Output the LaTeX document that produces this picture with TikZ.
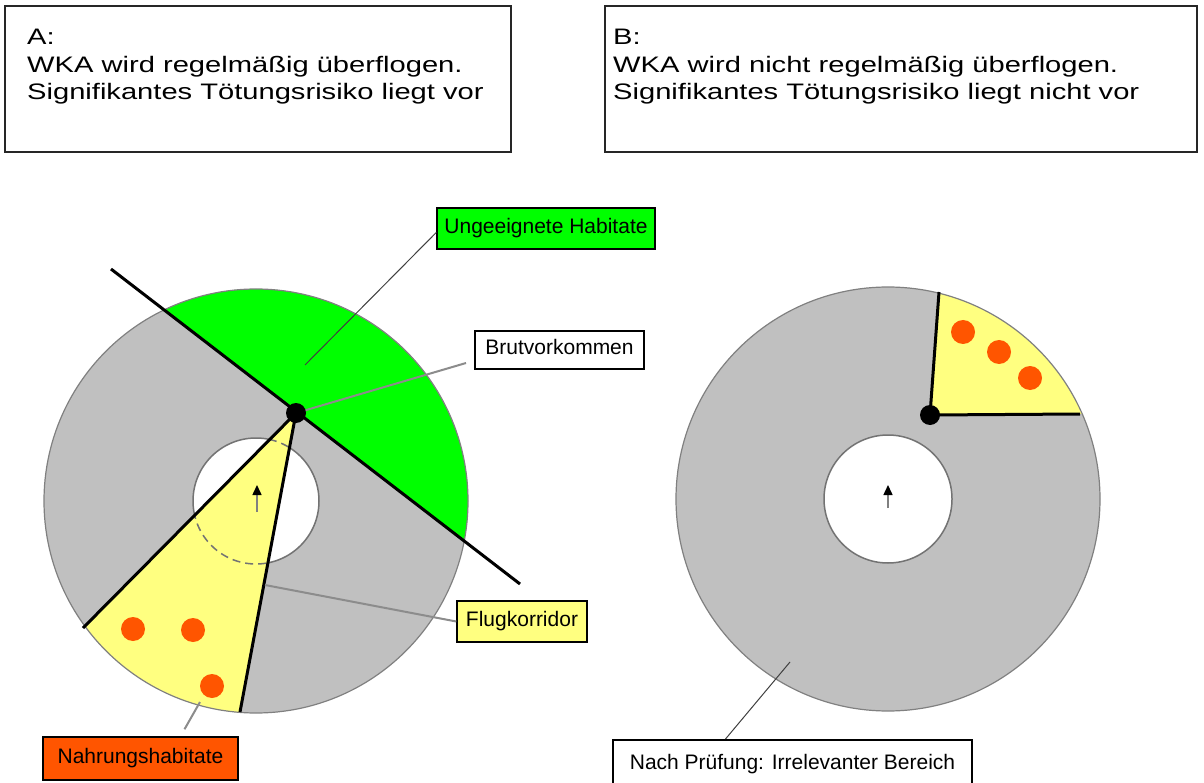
\documentclass[tikz,border=0pt]{standalone}
\usepackage{fontspec}
\setmainfont{Liberation Sans}
\newfontfamily\kastenschrift[FakeStretch=1.3]{Liberation Sans}
\usetikzlibrary{calc,arrows.meta}

\definecolor{flaechengrau}{RGB}{192,192,192}
\definecolor{gruen}{RGB}{0,255,0}
\definecolor{gelb}{RGB}{255,255,128}
\definecolor{orangerot}{RGB}{255,85,0}

\tikzset{
  kastenrahmen/.style={line width=1.5pt, black!85},
  kastentext/.style={font=\kastenschrift\fontsize{22.4}{27.5}\selectfont, align=left, inner sep=0pt, anchor=north west},
  beschriftung/.style={draw=black, line width=1.5pt, font=\fontsize{21}{25}\selectfont, inner sep=0pt, text height=15pt, text depth=5pt},
  kreisrand/.style={line width=1.2pt, black!50},
  lochrand/.style={line width=1.5pt, black!55},
  grenze/.style={line width=3pt, black},
  zeiger/.style={line width=1pt, black!75},
  grauzeiger/.style={line width=2pt, black!45},
  brutpunkt/.style={circle, fill=black, minimum size=20pt, inner sep=0pt},
  pfeil/.style={line width=1.5pt, black!50, -{Triangle[length=10pt,width=9pt,color=black]}}
}

\begin{document}
\begin{tikzpicture}[x=1pt,y=1pt]
\clip (0,0) rectangle (1204,-783);
\fill[white] (0,0) rectangle (1204,-783);

%KASTEN NR. 0 (von links)
\draw[kastenrahmen] (5,-6) rectangle (511,-152);
\node[kastentext] (textA) at (27,-29) {A:\\WKA wird regelmäßig überflogen.\\Signifikantes Tötungsrisiko liegt vor};

%KASTEN NR. 1 (von links)
\draw[kastenrahmen] (605,-6) rectangle (1197,-152);
\node[kastentext] (textB) at (613,-29) {B:\\WKA wird nicht regelmäßig überflogen.\\Signifikantes Tötungsrisiko liegt nicht vor};




%KREIS NR. 0 (von links)
\coordinate (mitteA) at (256,-501);
\coordinate (wA) at (296,-413);
\coordinate (wA1) at (83,-628);
\coordinate (wA2) at (240,-712);

\fill[flaechengrau] (mitteA) circle[radius=212pt];
\fill[white] (mitteA) circle[radius=63pt];
\draw[lochrand] (mitteA) circle[radius=63pt];
\begin{scope}
  \clip (-298,46) -- (929,-899) -- (929,46) -- cycle;
  \fill[gruen] (mitteA) circle[radius=212pt];
\end{scope}
\begin{scope}
  \clip (mitteA) circle[radius=212pt];
  \fill[gelb] (wA) -- ($(wA)!2!(wA1)$) -- ($(wA)!2!(wA2)$) -- cycle;
\end{scope}
\begin{scope}
  \clip (wA) -- ($(wA)!2!(wA1)$) -- ($(wA)!2!(wA2)$) -- cycle;
  \draw[lochrand, dash pattern=on 8pt off 5pt] (mitteA) circle[radius=63pt];
\end{scope}
\draw[kreisrand] (mitteA) circle[radius=212pt];

\foreach \x/\y in {133/-629, 193/-630, 212/-686}
  \fill[orangerot] (\x,\y) circle[radius=12pt];

\draw[grenze] (111,-269) -- (520,-584);
\draw[grenze] (wA) -- (wA1);
\draw[grenze] (wA) -- (wA2);
\draw[pfeil] (257,-512) -- (257,-485);




%KREIS NR. 1 (von links)
\coordinate (mitteB) at (888,-499);
\coordinate (wB) at (930,-415);
\coordinate (wB1) at (939,-292);
\coordinate (wB2) at (1080,-414);

\fill[flaechengrau] (mitteB) circle[radius=212pt];
\fill[white] (mitteB) circle[radius=64pt];
\draw[lochrand] (mitteB) circle[radius=64pt];
\begin{scope}
  \clip (mitteB) circle[radius=212pt];
  \fill[gelb] (wB) -- ($(wB)!2!(wB1)$) -- (1230,-169) -- ($(wB)!2!(wB2)$) -- cycle;
\end{scope}
\draw[kreisrand] (mitteB) circle[radius=212pt];

\foreach \x/\y in {963/-332, 999/-352, 1030/-378}
  \fill[orangerot] (\x,\y) circle[radius=12pt];

\draw[grenze] (wB) -- (wB1);
\draw[grenze] (wB) -- (wB2);
\draw[pfeil] (888,-508) -- (888,-485);




%BESCHRIFTUNGEN
\node[beschriftung, fill=gruen, minimum width=218pt, minimum height=41pt] (ungeeignet) at (546,-228.5) {Ungeeignete Habitate};
\node[beschriftung, fill=white, minimum width=169pt, minimum height=38pt] (brut) at (559.5,-350) {Brutvorkommen};
\node[beschriftung, fill=gelb, minimum width=130pt, minimum height=41pt] (flug) at (522,-621.5) {Flugkorridor};
\node[beschriftung, fill=orangerot, minimum width=195pt, minimum height=43pt] (nahrung) at (140.5,-758.5) {Nahrungshabitate};
\node[beschriftung, fill=white, minimum width=359pt, inner ysep=15pt, anchor=north] (pruefung) at (792.5,-739) {Nach Prüfung: Irrelevanter Bereich};

\coordinate (gruenEnde) at (305,-365);
\coordinate (brutEnde) at (466,-363);
\coordinate (flugEnde) at (265,-585);
\coordinate (nahrungEnde) at (200,-702);
\coordinate (pruefEnde) at (790,-662);

\draw[zeiger] ([yshift=-4pt]ungeeignet.west) -- (gruenEnde);
\draw[grauzeiger] (brutEnde) -- (wA);
\draw[grauzeiger] (flugEnde) -- (flug.west);
\draw[grauzeiger] ([xshift=44pt,yshift=7pt]nahrung.north) -- (nahrungEnde);
\draw[zeiger] ([xshift=-67pt]pruefung.north) -- (pruefEnde);

\node[brutpunkt] (brutA) at (wA) {};
\node[brutpunkt] (brutB) at (wB) {};

\end{tikzpicture}
\end{document}
